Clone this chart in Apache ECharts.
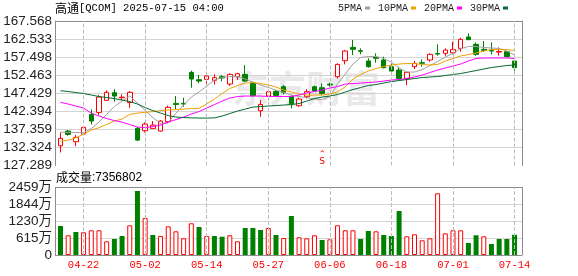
<!DOCTYPE html>
<html>
<head>
<meta charset="utf-8">
<script src="https://cdn.jsdelivr.net/npm/echarts@6/dist/echarts.min.js"></script>
<style>html,body{margin:0;padding:0;background:#fff}#c{width:578px;height:276px}</style>
</head>
<body>
<div id="c"></div>
<script>
const dates = ['04-16','04-17','04-21','04-22','04-23','04-24','04-25','04-28','04-29','04-30','05-01','05-02','05-05','05-06','05-07','05-08','05-09','05-12','05-13','05-14','05-15','05-16','05-19','05-20','05-21','05-22','05-23','05-27','05-28','05-29','05-30','06-02','06-03','06-04','06-05','06-06','06-09','06-10','06-11','06-12','06-13','06-16','06-17','06-18','06-20','06-23','06-24','06-25','06-26','06-27','06-30','07-01','07-02','07-03','07-07','07-08','07-09','07-10','07-11','07-14'];
const opens  = [132.79,136.89,133.91,136.05,141.53,142.09,145.44,147.58,146.20,144.83,137.64,136.98,137.63,136.89,139.49,144.60,144.60,153.25,151.20,151.29,151.02,152.04,149.99,152.04,152.69,150.18,142.56,146.65,147.95,149.25,146.50,143.95,146.46,149.25,148.97,149.99,152.04,156.50,160.22,159.29,156.41,157.43,156.69,154.83,153.90,151.57,154.83,155.95,156.69,158.50,158.55,158.70,159.94,163.11,161.06,159.66,159.39,158.90,159.01,156.41];
const closes = [134.84,135.96,135.12,137.91,139.67,146.37,147.67,146.65,146.35,147.68,134.37,138.84,138.56,139.67,143.49,144.32,144.42,151.39,150.83,152.23,151.76,151.70,152.69,152.88,150.83,146.74,144.32,147.86,146.83,147.67,144.50,145.81,147.86,148.04,147.39,149.72,155.48,159.20,159.67,159.11,154.83,157.15,154.55,153.62,151.57,153.25,155.76,155.80,158.27,158.35,159.48,159.60,162.45,162.36,158.27,159.39,159.20,159.05,157.62,154.55];
const lows   = [130.93,135.58,132.70,135.96,138.74,141.35,145.35,145.07,145.50,143.38,134.09,136.51,137.54,136.70,139.02,143.02,143.67,148.97,150.18,149.90,149.90,150.74,149.44,151.11,150.65,146.55,140.88,145.53,146.65,147.11,143.21,143.67,145.99,147.86,146.93,149.25,151.57,155.48,158.08,158.27,154.55,155.95,154.37,153.44,151.30,149.72,154.18,154.83,156.22,157.90,157.90,158.27,159.01,162.27,157.90,159.01,158.27,157.90,157.43,153.62];
const highs  = [136.51,137.17,135.77,138.19,142.93,146.93,148.23,148.60,147.10,148.04,138.00,139.30,139.67,139.95,143.95,146.65,146.18,153.71,152.51,152.51,152.69,152.51,152.97,153.16,155.29,150.55,145.53,148.32,148.32,149.72,146.93,146.18,148.60,149.53,150.18,150.37,155.76,159.48,162.27,159.94,157.15,158.55,157.62,155.76,154.83,153.44,156.41,156.87,158.55,161.06,159.94,161.80,162.92,164.13,161.62,161.99,161.62,160.22,159.20,156.69];
const ma5  = [136.61,136.52,136.47,136.47,137.58,139.40,141.55,143.72,145.25,146.65,144.70,142.60,140.65,138.98,139.26,141.90,144.14,146.37,147.77,149.44,151.11,151.81,152.09,152.09,151.39,150.55,149.72,149.02,148.32,147.63,146.93,146.51,146.23,145.81,145.67,146.45,150.00,152.79,155.58,157.39,157.67,157.67,157.11,156.13,154.46,153.34,153.34,154.04,155.16,156.27,157.53,158.50,159.90,160.46,160.46,160.18,160.04,159.90,159.20,158.09];
const ma10 = [134.10,134.38,135.02,135.97,137.17,137.81,138.76,139.68,140.23,141.55,141.90,142.10,142.32,142.60,142.74,142.88,143.02,143.16,143.22,144.42,145.81,147.35,148.74,149.58,150.27,150.41,150.13,149.72,149.16,148.32,147.77,147.21,146.93,146.93,146.93,147.21,147.77,149.24,151.39,152.65,153.62,154.32,154.88,155.30,155.57,155.71,155.71,155.44,155.30,155.44,156.41,157.11,157.81,158.22,158.64,159.20,159.62,159.67,159.62,159.28];
const ma20 = [144.89,144.42,143.86,143.30,141.90,141.07,140.37,139.81,139.39,138.70,138.00,137.86,138.14,138.56,139.39,140.09,140.79,141.63,142.32,143.30,144.28,145.25,146.09,146.51,146.65,146.65,146.65,146.51,146.51,146.51,146.51,146.93,147.48,147.90,148.32,148.88,149.30,150.00,150.13,150.27,150.41,150.55,150.83,151.11,151.25,151.53,151.95,152.50,153.20,153.90,154.46,155.02,155.57,156.41,157.11,157.25,157.25,157.25,157.25,157.11];
const ma30 = [148.13,147.90,147.62,147.35,146.93,146.51,146.23,145.95,145.53,145.11,144.42,143.44,142.60,141.90,141.21,140.79,140.65,140.57,140.51,140.51,140.57,141.07,141.77,142.46,143.02,143.58,143.72,143.86,144.00,144.14,144.28,144.56,145.25,145.95,146.37,146.65,147.07,147.77,148.46,149.02,149.58,149.86,150.27,150.69,150.97,151.25,151.53,151.81,151.95,152.09,152.37,152.65,152.93,153.34,153.76,154.18,154.60,154.88,155.16,155.30];
const volumes = [1056,718,838,827,900,900,499,583,692,1082,2332,1348,729,692,1045,863,608,1155,1020,692,692,667,718,499,984,984,911,984,729,619,1421,645,608,718,546,572,1082,900,900,583,874,863,729,692,1603,681,754,535,608,2248,790,900,900,437,718,681,401,583,583,735.68];
const volUp = [0,1,0,1,1,1,1,0,0,1, 0,1,0,1,1,1,1,1,0,1, 0,0,1,1,0,0,0,1,0,1, 0,1,1,1,0,1,1,1,1,0, 0,1,0,0,0,1,1,1,1,1, 1,1,1,0,0,1,0,0,0,0];
const priceTicks = ['127.289','132.324','137.359','142.394','147.429','152.463','157.498','162.533','167.568'];
const volTicks = ['0','615万','1230万','1844万','2459万'];
const dateTicks = ['04-22','05-02','05-14','05-27','06-06','06-18','07-01','07-14'];
const lastVolume = '7356802';
const signal = {date: '06-05', price: 129.3, text: 'S'};

const RED = '#ff0000', GREEN = '#008000';
const GRID_C = '#d4d4d4', AXIS_C = '#8c8c8c';
const showTick = (i, v) => dateTicks.indexOf(v) >= 0;
const guideLines = () => ({
  symbol: 'none', silent: true, label: {show: false},
  lineStyle: {color: '#bcbcbc', width: 1, type: 'dashed'},
  data: dateTicks.map((d) => ({xAxis: d}))
});

const chart = echarts.init(document.getElementById('c'));
const priceSplit = ['rgba(0,0,0,0)', GRID_C, GRID_C, GRID_C, GRID_C, GRID_C, GRID_C, GRID_C, AXIS_C];
const volSplit = [AXIS_C, GRID_C, GRID_C, GRID_C, AXIS_C];
const mono = 'Liberation Mono';
const sans = 'Liberation Sans, Noto Sans CJK SC';

chart.setOption({
  animation: false,
  backgroundColor: '#fff',
  title: [
    {text: '{a|高通}{b|[QCOM] 2025-07-15 04:00}', left: 55, top: 1, padding: 0,
     textStyle: {fontWeight: 'normal', rich: {a: {fontFamily: 'Noto Sans CJK SC', fontSize: 12, fontWeight: 'normal', color: '#000', lineHeight: 15},
                        b: {fontFamily: mono, fontSize: 10.5, fontWeight: 'normal', color: '#000', lineHeight: 15}}}},
    {text: '{a|成交量}{b|:' + lastVolume + '}', left: 56, top: 170, padding: 0,
     textStyle: {fontWeight: 'normal', rich: {a: {fontFamily: 'Noto Sans CJK SC', fontSize: 12, fontWeight: 'normal', color: '#000', lineHeight: 15},
                        b: {fontFamily: 'Liberation Sans', fontSize: 12, fontWeight: 'normal', color: '#000', lineHeight: 15}}}}
  ],
  legend: {
    left: 338, top: 3, padding: 0, itemWidth: 5, itemHeight: 3, itemGap: 8, align: 'right', icon: 'rect',
    textStyle: {fontFamily: mono, fontSize: 10, color: '#222', padding: [0, -2, 0, 0]},
    data: ['5PMA', '10PMA', '20PMA', '30PMA']
  },
  graphic: [{type: 'text', left: 232, top: 70, silent: true,
    style: {text: '东方财富', fill: 'rgba(196,198,206,0.38)', font: 'bold 37px "Noto Sans CJK SC"'}}],
  grid: [
    {left: 55, top: 21, width: 467, height: 144.5},
    {left: 56.65, top: 21, width: 461.75, height: 144.5},
    {left: 55, top: 187.5, width: 467, height: 67.5},
    {left: 56.65, top: 187.5, width: 461.75, height: 67.5}
  ],
  xAxis: [
    {type: 'value', gridIndex: 0, min: 0, max: 1, show: false},
    {type: 'category', gridIndex: 1, data: dates, boundaryGap: true,
     axisLine: {show: false}, axisTick: {show: false}, axisLabel: {show: false}, splitLine: {show: false}},
    {type: 'value', gridIndex: 2, min: 0, max: 1, show: false},
    {type: 'category', gridIndex: 3, data: dates, boundaryGap: true,
     axisLine: {show: false}, axisTick: {show: false},
     axisLabel: {show: true, interval: showTick, color: RED, fontFamily: mono, fontSize: 10.5, margin: 5},
     splitLine: {show: false}}
  ],
  yAxis: [
    {type: 'value', gridIndex: 0, min: 0, max: 8, interval: 1,
     axisLine: {show: true, lineStyle: {color: AXIS_C}}, axisTick: {show: false},
     axisLabel: {formatter: (v) => priceTicks[Math.round(v)], color: '#222', fontFamily: 'Liberation Sans', fontSize: 13.5, margin: 3},
     splitLine: {show: true, lineStyle: {color: priceSplit, width: 1}}},
    {type: 'value', gridIndex: 0, position: 'right', min: 0, max: 8, interval: 1,
     axisLine: {show: true, lineStyle: {color: AXIS_C}}, axisTick: {show: false}, axisLabel: {show: false}, splitLine: {show: false}},
    {type: 'value', gridIndex: 1, min: 127.289, max: 167.568, show: false},
    {type: 'value', gridIndex: 2, min: 0, max: 4, interval: 1,
     axisLine: {show: true, lineStyle: {color: AXIS_C}}, axisTick: {show: false},
     axisLabel: {formatter: (v) => volTicks[Math.round(v)], color: '#222', fontFamily: sans, fontSize: 13.5, margin: 3},
     splitLine: {show: true, lineStyle: {color: volSplit, width: 1}}},
    {type: 'value', gridIndex: 2, position: 'right', min: 0, max: 4, interval: 1,
     axisLine: {show: true, lineStyle: {color: AXIS_C}}, axisTick: {show: false}, axisLabel: {show: false}, splitLine: {show: false}},
    {type: 'value', gridIndex: 3, min: 0, max: 2459, show: false}
  ],
  series: [
    {type: 'candlestick', name: 'K', xAxisIndex: 1, yAxisIndex: 2, barWidth: 5,
     data: dates.map((d, i) => [opens[i], closes[i], lows[i], highs[i]]),
     itemStyle: {color: '#ffffff', color0: GREEN, borderColor: RED, borderColor0: GREEN, borderWidth: 1},
     markLine: guideLines(),
     markPoint: {silent: true, symbol: 'rect', symbolSize: 1, itemStyle: {color: 'rgba(0,0,0,0)'},
       label: {show: true, position: 'inside', color: RED, fontFamily: 'DejaVu Sans', fontSize: 9, lineHeight: 7, formatter: '⌃\n' + signal.text},
       data: [{coord: [signal.date, signal.price]}]}},
    {type: 'line', name: '5PMA', xAxisIndex: 1, yAxisIndex: 2, data: ma5, symbol: 'none',
     lineStyle: {color: '#a0a0a0', width: 1}, itemStyle: {color: '#a0a0a0'}},
    {type: 'line', name: '10PMA', xAxisIndex: 1, yAxisIndex: 2, data: ma10, symbol: 'none',
     lineStyle: {color: '#f0a000', width: 1}, itemStyle: {color: '#f0a000'}},
    {type: 'line', name: '20PMA', xAxisIndex: 1, yAxisIndex: 2, data: ma20, symbol: 'none',
     lineStyle: {color: '#ff00ff', width: 1}, itemStyle: {color: '#ff00ff'}},
    {type: 'line', name: '30PMA', xAxisIndex: 1, yAxisIndex: 2, data: ma30, symbol: 'none',
     lineStyle: {color: '#006a30', width: 1}, itemStyle: {color: '#006a30'}},
    {type: 'bar', name: 'VOL', xAxisIndex: 3, yAxisIndex: 5, barWidth: 5,
     data: volumes.map((v, i) => ({value: v, itemStyle: volUp[i]
        ? {color: '#ffffff', borderColor: RED, borderWidth: 1}
        : {color: GREEN, borderColor: GREEN, borderWidth: 0}})),
     markLine: guideLines()}
  ]
});
</script>
</body>
</html>
